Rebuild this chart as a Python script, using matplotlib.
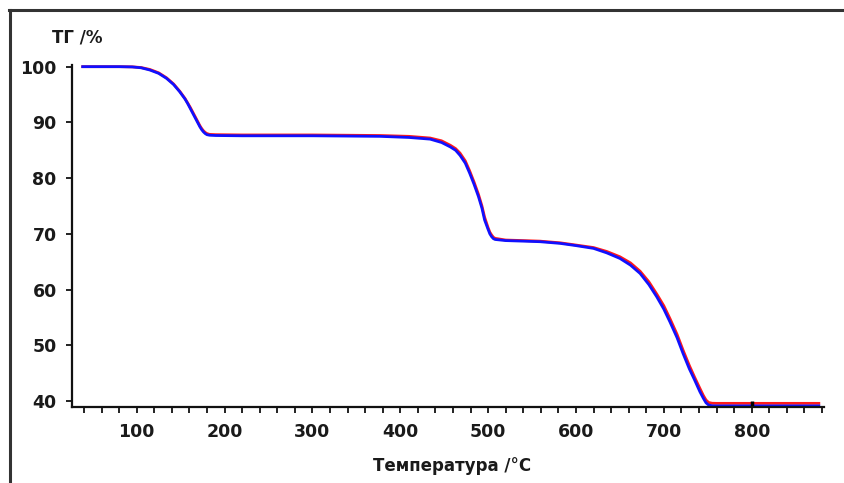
import matplotlib
matplotlib.use("Agg")
import matplotlib.pyplot as plt
from matplotlib.lines import Line2D
import numpy as np

# TG curves (temperature in °C, mass in %)
blue_temp = [37, 60, 80, 95, 105, 115, 125, 134, 142, 149, 155, 158, 161, 164, 167, 170, 172, 174, 176,
             178, 180, 183, 190, 220, 260, 300, 340, 377, 410, 434, 447, 457, 463, 468, 474, 479, 484,
             489, 493, 496, 500, 502, 504, 506, 508, 520, 540, 559, 582, 600, 620, 635, 650, 662, 673,
             683, 692, 700, 707, 715, 722, 729, 735, 741, 745, 748, 751, 755, 760, 800, 840, 878]
blue_tg = [100, 100, 100, 99.95, 99.8, 99.4, 98.8, 97.9, 96.8, 95.5, 94.2, 93.4, 92.5, 91.6, 90.7, 89.8,
           89.2, 88.7, 88.3, 88.0, 87.8, 87.7, 87.65, 87.6, 87.6, 87.6, 87.55, 87.5, 87.3, 87.0, 86.4,
           85.6, 85.0, 84.1, 82.7, 80.9, 78.9, 76.7, 74.6, 72.5, 70.8, 70.0, 69.5, 69.15, 69.0, 68.8,
           68.7, 68.6, 68.3, 67.9, 67.4, 66.6, 65.6, 64.4, 62.9, 60.9, 58.7, 56.5, 54.2, 51.4, 48.5,
           45.8, 43.8, 41.7, 40.5, 39.7, 39.3, 39.17, 39.15, 39.15, 39.15, 39.15]

red_temp = [37, 60, 80, 95, 105, 115, 125, 134, 142, 149, 155, 158, 161, 164, 167, 170, 172, 174, 176,
            178, 180, 183, 190, 220, 260, 300, 340, 377, 410, 434, 447, 457, 463, 468, 474, 479, 484,
            489, 493, 496, 500, 502, 504, 506, 508, 520, 540, 559, 582, 600, 620, 635, 650, 662, 673,
            683, 692, 700, 707, 715, 722, 729, 735, 741, 745, 748, 751, 755, 760, 800, 840, 878]
red_tg = [100, 100, 100, 99.97, 99.85, 99.5, 98.9, 98.0, 96.9, 95.6, 94.3, 93.5, 92.7, 91.8, 90.9, 90.0,
          89.4, 88.9, 88.5, 88.2, 88.0, 87.85, 87.8, 87.75, 87.75, 87.75, 87.7, 87.65, 87.5, 87.2,
          86.7, 85.9, 85.3, 84.5, 83.1, 81.3, 79.3, 77.1, 75.0, 73.0, 71.1, 70.3, 69.8, 69.4, 69.2,
          68.9, 68.8, 68.7, 68.4, 68.0, 67.55, 66.85, 65.9, 64.8, 63.3, 61.4, 59.2, 57.1, 54.8, 52.0,
          49.1, 46.4, 44.3, 42.3, 41.0, 40.2, 39.75, 39.62, 39.6, 39.6, 39.6, 39.6]

x_ticks = [100, 200, 300, 400, 500, 600, 700, 800]
y_ticks = [40, 50, 60, 70, 80, 90, 100]
marker_temp = [800]

fig = plt.figure(figsize=(8.44, 4.83), dpi=100)
ax = fig.add_axes([72 / 844, 1 - 406.7 / 483, (824 - 72) / 844, (406.7 - 65) / 483])

ax.plot(red_temp, red_tg, color="#ff1a1a", lw=2.0, solid_capstyle="butt")
ax.plot(blue_temp, blue_tg, color="#1010ff", lw=2.0, solid_capstyle="butt")
ax.plot(marker_temp, np.interp(marker_temp, blue_temp, blue_tg), marker="|", color="black",
        ms=7, mew=2.5, ls="none")

ax.set_xlim(26.4, 882.3)
ax.set_ylim(39.0, 100.3)

for side in ["top", "right"]:
    ax.spines[side].set_visible(False)
for side in ["left", "bottom"]:
    ax.spines[side].set_linewidth(1.6)
    ax.spines[side].set_color("#111111")

ax.set_xticks(x_ticks)
ax.set_xticks(np.arange(40, 881, 20), minor=True)
ax.set_yticks(y_ticks)
ax.tick_params(axis="both", which="both", direction="out", length=4, width=1.3, color="#111111")
ax.tick_params(axis="x", which="major", pad=8)
ax.tick_params(axis="y", which="major", pad=7)
for lab in ax.get_xticklabels() + ax.get_yticklabels():
    lab.set_fontweight("bold")
    lab.set_fontsize(12.5)
    lab.set_color("#1a1a1a")

fig.text(452 / 844, 1 - 466 / 483, "Температура /°C", ha="center", va="center",
         fontsize=12, fontweight="bold", color="#1a1a1a")
fig.text(52 / 844, 1 - 37 / 483, "ТГ /%", ha="left", va="center",
         fontsize=12, fontweight="bold", color="#1a1a1a")

# frame of the cropped document
fig.add_artist(Line2D([10 / 844, 10 / 844], [0, 1 - 10 / 483], color="#333333", lw=2.2,
                      transform=fig.transFigure))
fig.add_artist(Line2D([9 / 844, 1], [1 - 10 / 483, 1 - 10 / 483], color="#333333", lw=2.2,
                      transform=fig.transFigure))

fig.savefig("out.png", dpi=100)
